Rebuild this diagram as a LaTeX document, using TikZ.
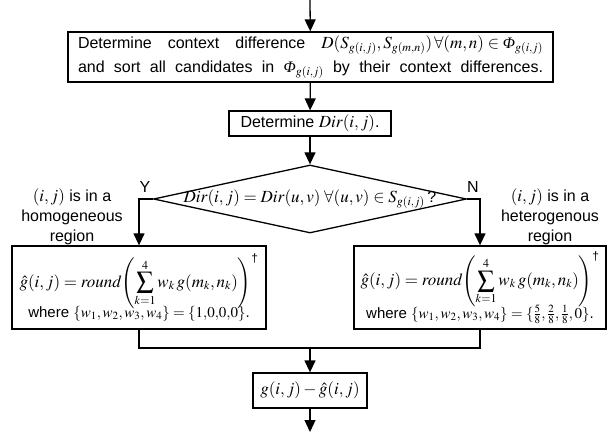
\documentclass[tikz,border=0pt]{standalone}
\usepackage{mathptmx}
\usepackage[no-math]{fontspec}
\setmainfont{Liberation Sans}
\newfontfamily\grecofont{Liberation Serif}
\usepackage{amsmath,amssymb}
\usetikzlibrary{arrows.meta, shapes.geometric, positioning, calc}
\DeclareMathSizes{16}{17}{12}{9.5}
\DeclareMathSizes{15}{15}{11}{8.5}
\newcommand{\Fi}{\text{\grecofont\itshape Φ}}
\newcommand{\piccolo}{\fontsize{15}{18}\selectfont}

\begin{document}
\begin{tikzpicture}[
    x=1pt, y=-1pt,
    line join=miter,
    blocco/.style    = {draw, line width=1.3pt, inner sep=0pt, align=center,
                        font=\fontsize{16}{24}\selectfont},
    rombo/.style     = {draw, diamond, aspect=4.6, line width=1.3pt, inner sep=0pt,
                        minimum width=313pt, minimum height=68pt},
    filo/.style      = {line width=1.3pt},
    freccia/.style   = {filo, -{Triangle[length=12pt,width=11pt]}},
    etichetta/.style = {font=\fontsize{16}{20}\selectfont, align=center, inner sep=0pt}
]
\useasboundingbox (0,0) rectangle (607,435);

% ---- differenza di contesto ----
\coordinate (ingresso) at (310,0);
\node[blocco, minimum width=485pt, minimum height=50pt] (contesto) at (310.5,57)
    {\makebox[465pt][s]{Determine context difference \mbox{$D(S_{g(i,j)},S_{g(m,n)})\,\forall(m,n)\in\Fi_{g(i,j)}$}}\\
     \makebox[465pt][s]{and sort all candidates in \mbox{$\Fi_{g(i,j)}$} by their context differences.}};

% ---- direzione ----
\node[blocco, minimum width=162pt, minimum height=25pt] (direzione) at (310,123.5)
    {Determine $\mathit{Dir}(i,j)$.};

% ---- decisione ----
\node[rombo] (decisione) at (310,199) {};
\node[etichetta] (domanda) at (decisione.center)
    {$\mathit{Dir}(i,j) = \mathit{Dir}(u,v)\;\forall(u,v)\in S_{g(i,j)}$\,?};
\node[etichetta] (si) at (145,187) {Y};
\node[etichetta] (no) at (473,187) {N};

% ---- regione omogenea ----
\node[etichetta] (omogenea) at (72,217) {$(i,j)$ is in a\\homogeneous\\region};
\node[blocco, minimum width=254pt, minimum height=83pt] (stimaA) at (139,287.5)
    {$\hat{g}(i,j) = \mathit{round}\!\left(\displaystyle\sum_{k=1}^{4} w_k\, g(m_k,n_k)\right)^{\text{\textdagger}}$\\[-3pt]
     {\piccolo where $\{w_1,w_2,w_3,w_4\} = \{1{,}0{,}0{,}0\}$.}};

% ---- regione eterogenea ----
\node[etichetta] (eterogenea) at (550,217) {$(i,j)$ is in a\\heterogenous\\region};
\node[blocco, minimum width=252pt, minimum height=83pt] (stimaB) at (480,287.5)
    {$\hat{g}(i,j) = \mathit{round}\!\left(\displaystyle\sum_{k=1}^{4} w_k\, g(m_k,n_k)\right)^{\text{\textdagger}}$\\[-3pt]
     {\piccolo where $\{w_1,w_2,w_3,w_4\} = \{\tfrac{5}{8},\tfrac{2}{8},\tfrac{1}{8},0\}$.}};

% ---- residuo ----
\coordinate (unione) at (310,348);
\node[blocco, minimum width=114pt, minimum height=35pt] (residuo) at (310,390.5)
    {$g(i,j)-\hat{g}(i,j)$};
\coordinate (uscita) at (310,432);

% ---- collegamenti ----
\draw[freccia] (ingresso) -- (contesto);
\draw[freccia] (contesto) -- (direzione);
\draw[freccia] (direzione) -- (decisione);
\draw[freccia] (decisione.west) -| (stimaA.north);
\draw[freccia] (decisione.east) -| (stimaB.north);
\draw[filo] (stimaA.south) |- (unione) -| (stimaB.south);
\draw[freccia] (unione) -- (residuo);
\draw[freccia] (residuo) -- (uscita);

\end{tikzpicture}
\end{document}
